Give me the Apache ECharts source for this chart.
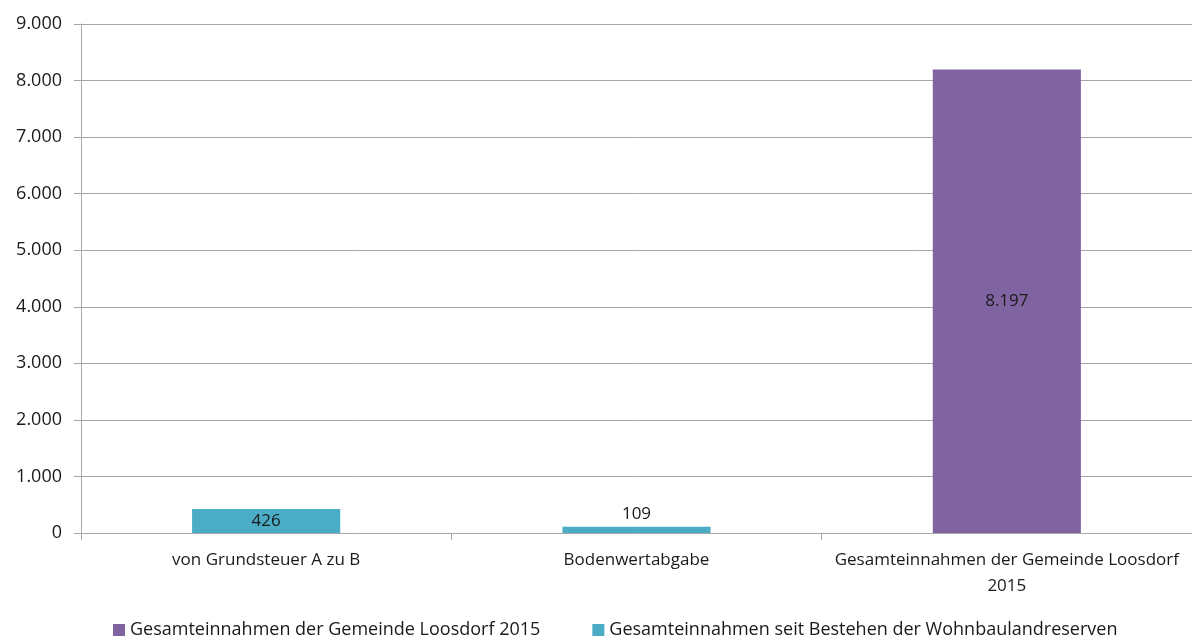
<!DOCTYPE html>
<html>
<head>
<meta charset="utf-8">
<script src="https://cdn.jsdelivr.net/npm/echarts@6/dist/echarts.min.js"></script>
<style>
  html, body { margin: 0; padding: 0; background: #fff; }
  #chart { width: 1192px; height: 636px; }
</style>
</head>
<body>
<div id="chart"></div>
<script>
const categories = ['von Grundsteuer A zu B', 'Bodenwertabgabe', 'Gesamteinnahmen der Gemeinde Loosdorf\n2015'];
const gemeindeValues = [null, null, 8197];
const wohnbauValues = [426, 109, null];
const yTicks = [0, 1000, 2000, 3000, 4000, 5000, 6000, 7000, 8000, 9000];

const FONT = '"Open Sans", sans-serif';
const TEXT = '#1a1a1a';

function deNum(v) {
  return String(v).replace(/\B(?=(\d{3})+(?!\d))/g, '.');
}

const chart = echarts.init(document.getElementById('chart'));
chart.setOption({
  animation: false,
  backgroundColor: '#fff',
  textStyle: { fontFamily: FONT },
  grid: { left: 81, right: 0, top: 24, bottom: 103 },
  legend: {
    bottom: -8,
    left: 108,
    itemWidth: 12,
    itemHeight: 12,
    itemGap: 52,
    icon: 'rect',
    textStyle: { color: TEXT, fontSize: 18, fontFamily: FONT },
    data: ['Gesamteinnahmen der Gemeinde Loosdorf 2015', 'Gesamteinnahmen seit Bestehen der Wohnbaulandreserven']
  },
  xAxis: {
    type: 'category',
    data: categories,
    axisLine: { lineStyle: { color: '#a6a6a6' } },
    axisTick: { show: true, length: 7, lineStyle: { color: '#a6a6a6' } },
    axisLabel: { color: TEXT, fontSize: 17, fontFamily: FONT, margin: 14, lineHeight: 26, interval: 0 }
  },
  yAxis: {
    type: 'value',
    min: yTicks[0],
    max: yTicks[yTicks.length - 1],
    interval: 1000,
    axisLine: { show: true, lineStyle: { color: '#a6a6a6' } },
    axisTick: { show: true, length: 7, lineStyle: { color: '#a6a6a6' } },
    splitLine: { lineStyle: { color: '#a6a6a6' } },
    axisLabel: { color: TEXT, fontSize: 18, fontFamily: FONT, margin: 19, formatter: deNum }
  },
  series: [
    {
      name: 'Gesamteinnahmen der Gemeinde Loosdorf 2015',
      type: 'bar',
      stack: 'all',
      barWidth: '40%',
      data: gemeindeValues,
      itemStyle: { color: '#8064a2' },
      label: {
        show: true, position: 'inside', color: TEXT, fontSize: 17, fontFamily: FONT,
        formatter: p => deNum(p.value)
      }
    },
    {
      name: 'Gesamteinnahmen seit Bestehen der Wohnbaulandreserven',
      type: 'bar',
      stack: 'all',
      barWidth: '40%',
      data: wohnbauValues.map((v, i) => ({
        value: v,
        label: { position: v !== null && v < 300 ? 'top' : 'inside' }
      })),
      itemStyle: { color: '#4bacc6' },
      label: {
        show: true, color: TEXT, fontSize: 17, fontFamily: FONT, distance: 4,
        formatter: p => deNum(p.value)
      }
    }
  ]
});
</script>
</body>
</html>
